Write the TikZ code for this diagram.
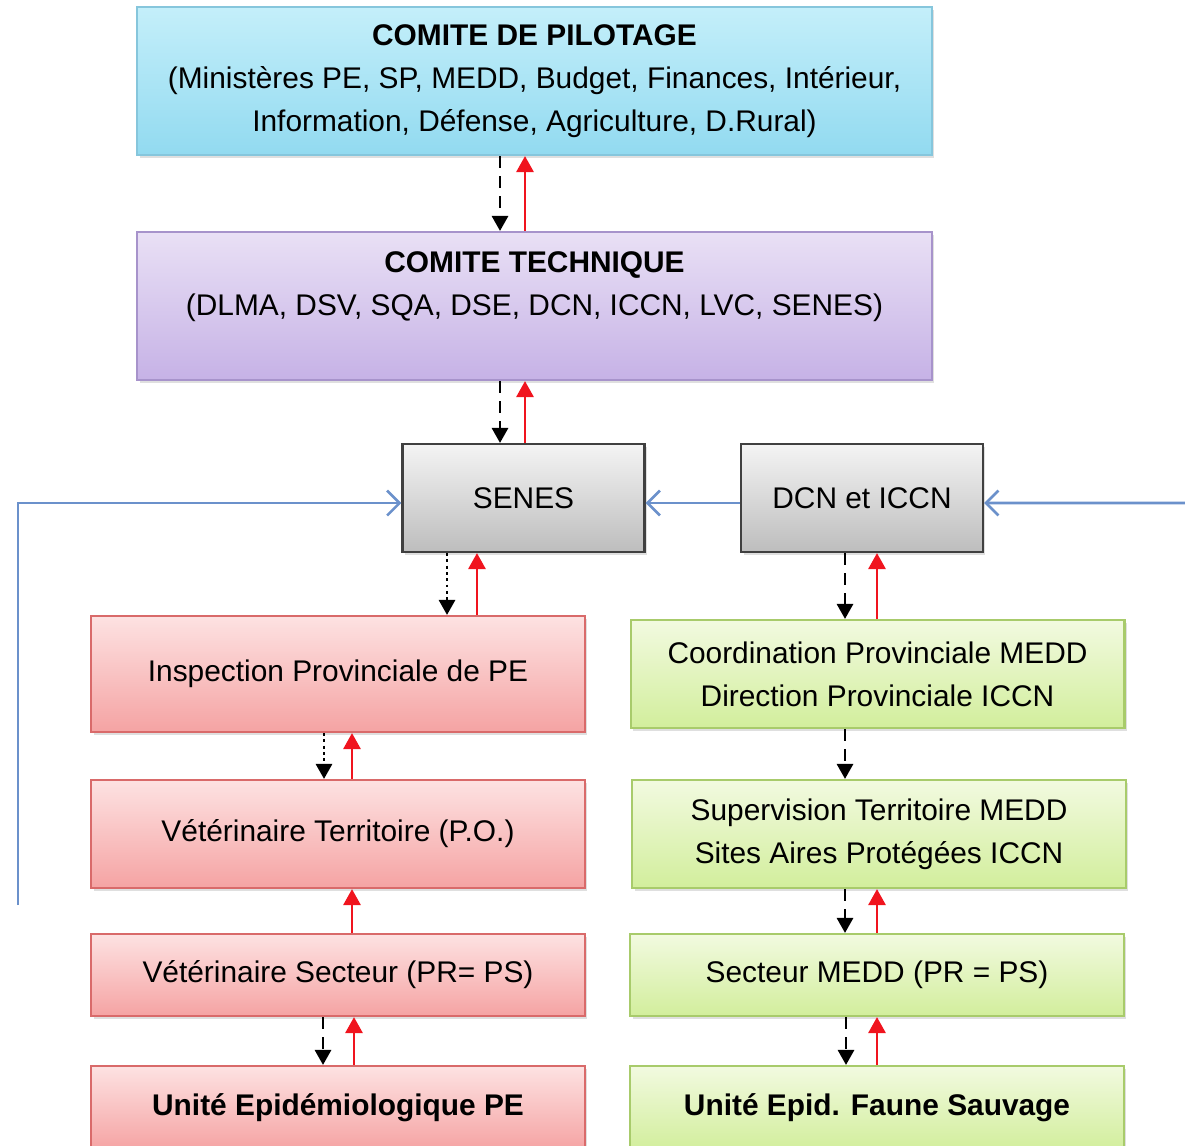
\documentclass[tikz,border=0pt]{standalone}
\usepackage{fontspec}
\setmainfont{Liberation Sans}
\usetikzlibrary{arrows.meta,shadows}

\definecolor{pilotTop}{HTML}{C4EFFA}
\definecolor{pilotBot}{HTML}{92DAF0}
\definecolor{pilotLine}{HTML}{86C6DC}
\definecolor{techTop}{HTML}{E9E0F5}
\definecolor{techBot}{HTML}{C6B2E6}
\definecolor{techLine}{HTML}{A793CB}
\definecolor{greyTop}{HTML}{F4F4F4}
\definecolor{greyBot}{HTML}{BDBDBD}
\definecolor{greyLine}{HTML}{404040}
\definecolor{pinkTop}{HTML}{FDE2E2}
\definecolor{pinkBot}{HTML}{F5A3A3}
\definecolor{pinkLine}{HTML}{D96A6A}
\definecolor{greenTop}{HTML}{F2FAE0}
\definecolor{greenBot}{HTML}{D2EE9C}
\definecolor{greenLine}{HTML}{A8CB6B}
\definecolor{blueLine}{HTML}{6B91CB}
\definecolor{upRed}{HTML}{F0141E}

\begin{document}
\begin{tikzpicture}[x=0.02cm,y=-0.02cm,
  txt/.style={font=\fontsize{17}{24.4}\selectfont,align=center},
  box/.style={txt,draw,line width=1.2pt,inner sep=0pt,
    drop shadow={shadow xshift=0.05cm,shadow yshift=-0.06cm,opacity=0.25}},
  pilotbox/.style={box,draw=pilotLine,top color=pilotTop,bottom color=pilotBot,
    minimum width=15.9cm,minimum height=2.96cm},
  techbox/.style={box,draw=techLine,top color=techTop,bottom color=techBot,
    minimum width=15.9cm,minimum height=2.96cm},
  greybox/.style={box,draw=greyLine,top color=greyTop,bottom color=greyBot,
    minimum width=4.84cm,minimum height=2.16cm},
  pinkbox/.style={box,draw=pinkLine,top color=pinkTop,bottom color=pinkBot,
    minimum width=9.88cm},
  greenbox/.style={box,draw=greenLine,top color=greenTop,bottom color=greenBot,
    minimum width=9.88cm},
  down/.style={line width=1.6pt,dash pattern=on 0.24cm off 0.16cm,
    -{Triangle[length=0.3cm,width=0.32cm]}},
  downdot/.style={line width=1.6pt,dotted,-{Triangle[length=0.3cm,width=0.32cm]}},
  up/.style={line width=1.6pt,upRed,-{Triangle[length=0.32cm,width=0.34cm]}},
  feed/.style={line width=1.5pt,blueLine,-{Straight Barb[length=0.25cm,width=0.5cm]}}]

\useasboundingbox (0,0) rectangle (1185,1145);
\clip (0,0) rectangle (1185,1145);

% top committees
\node[pilotbox] (pilot) at (534.5,81) {\textbf{COMITE DE PILOTAGE}\\
  (Ministères PE, SP, MEDD, Budget, Finances, Intérieur,\\
  Information, Défense, Agriculture, D.Rural)};
\node[techbox] (tech) at (534.5,306) {};
\node[txt] (techtxt) at (534.5,287) {\textbf{COMITE TECHNIQUE}\\
  (DLMA, DSV, SQA, DSE, DCN, ICCN, LVC, SENES)};

\node[greybox] (senes) at (523.5,498) {SENES};
\node[greybox] (dcn) at (862,498) {DCN et ICCN};

% left column
\node[pinkbox,minimum height=2.32cm] (insp) at (338,674) {Inspection Provinciale de PE};
\node[pinkbox,minimum height=2.16cm] (vterr) at (338,834) {Vétérinaire Territoire (P.O.)};
\node[pinkbox,minimum height=1.64cm] (vsect) at (338,975) {Vétérinaire Secteur (PR= PS)};
\node[pinkbox,minimum height=1.68cm] (upe) at (338,1108) {\textbf{Unité Epidémiologique PE}};

% right column
\node[greenbox,minimum height=2.16cm] (coord) at (877.5,674) {Coordination Provinciale MEDD\\
  Direction Provinciale ICCN};
\node[greenbox,minimum height=2.16cm] (superv) at (879,834) {Supervision Territoire MEDD\\
  Sites Aires Protégées ICCN};
\node[greenbox,minimum height=1.64cm] (smedd) at (877,975) {Secteur MEDD (PR = PS)};
\node[greenbox,minimum height=1.68cm] (ufaune) at (877,1108) {\textbf{Unité Epid. Faune Sauvage}};

% vertical links
\draw[down] ([xshift=-0.69cm]pilot.south) -- ([xshift=-0.69cm]tech.north);
\draw[up] ([xshift=-0.19cm]tech.north) -- ([xshift=-0.19cm]pilot.south);
\draw[down] ([xshift=-0.69cm]tech.south) -- ([xshift=-0.69cm]tech.south |- senes.north);
\draw[up] ([xshift=0.03cm]senes.north) -- ([xshift=0.03cm]senes.north |- tech.south);

\draw[downdot] ([xshift=-1.53cm]senes.south) -- ([xshift=-1.53cm]senes.south |- insp.north);
\draw[up] ([xshift=2.78cm]insp.north) -- ([xshift=2.78cm]insp.north |- senes.south);
\draw[down] ([xshift=-0.34cm]dcn.south) -- ([xshift=-0.34cm]dcn.south |- coord.north);
\draw[up] ([xshift=0.3cm]dcn.south |- coord.north) -- ([xshift=0.3cm]dcn.south);

\draw[downdot] ([xshift=-0.28cm]insp.south) -- ([xshift=-0.28cm]vterr.north);
\draw[up] ([xshift=0.28cm]vterr.north) -- ([xshift=0.28cm]insp.south);
\draw[down] ([xshift=-0.65cm]coord.south) -- ([xshift=-0.65cm]coord.south |- superv.north);

\draw[up] ([xshift=0.28cm]vsect.north) -- ([xshift=0.28cm]vterr.south);
\draw[down] ([xshift=-0.68cm]superv.south) -- ([xshift=-0.68cm]superv.south |- smedd.north);
\draw[up] ([xshift=0cm]smedd.north) -- ([xshift=0cm]smedd.north |- superv.south);

\draw[down] ([xshift=-0.3cm]vsect.south) -- ([xshift=-0.3cm]upe.north);
\draw[up] ([xshift=0.32cm]upe.north) -- ([xshift=0.32cm]vsect.south);
\draw[down] ([xshift=-0.62cm]smedd.south) -- ([xshift=-0.62cm]ufaune.north);
\draw[up] ([xshift=0cm]ufaune.north) -- ([xshift=0cm]smedd.south);

% feedback lines
\coordinate (lft) at (18,905);
\coordinate (rgt) at (1185,503);
\draw[feed] (lft) |- ([yshift=-0.1cm]senes.west);
\draw[feed] ([yshift=-0.1cm]dcn.west) -- ([yshift=-0.1cm]senes.east);
\draw[feed] (rgt) -- ([yshift=-0.1cm]dcn.east);
\end{tikzpicture}
\end{document}
